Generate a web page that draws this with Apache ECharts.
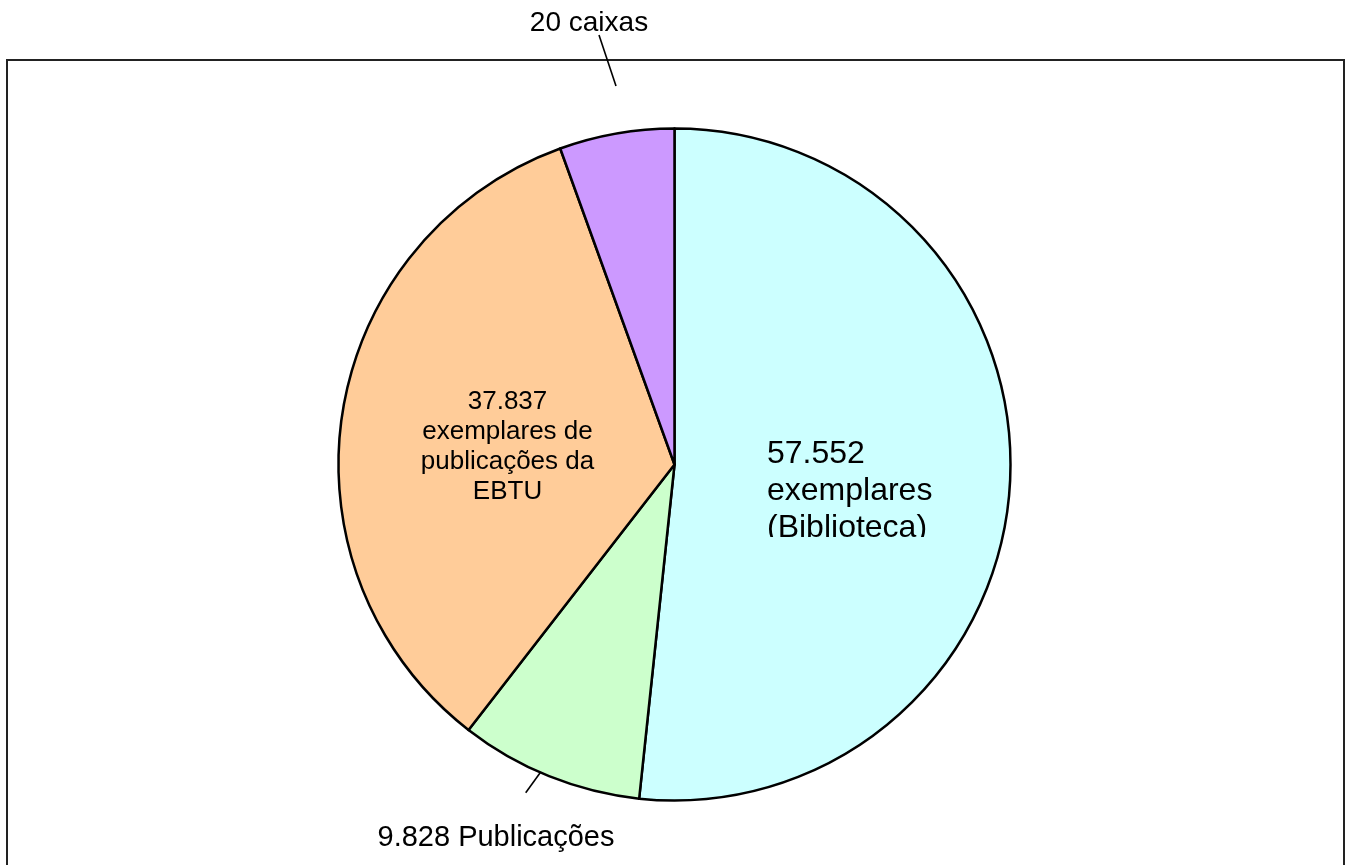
<!DOCTYPE html>
<html>
<head>
<meta charset="utf-8">
<title>Acervo</title>
<script src="https://cdn.jsdelivr.net/npm/echarts@6/dist/echarts.min.js"></script>
<style>
  html, body { margin: 0; padding: 0; background: #ffffff; }
  #chart { width: 1346px; height: 865px; }
</style>
</head>
<body>
<div id="chart"></div>
<script>
// Slices, clockwise from 12 o'clock
const categories = ['exemplares (Biblioteca)', 'Publicações', 'exemplares de publicações da EBTU', 'caixas'];
const sliceValues = [57552, 9828, 37837, 6150]; // last slice: estimated weight of the boxes
const boxCount = 20;
const sliceColors = ['#CCFFFF', '#CCFFCC', '#FFCC99', '#CC99FF'];

// thousands separator with a dot
function fmt(v) {
  return String(v).replace(/\B(?=(\d{3})+(?!\d))/g, '.');
}

const labelTexts = [
  fmt(sliceValues[0]) + '\nexemplares\n(Biblioteca)',
  fmt(sliceValues[1]) + ' Publicações',
  fmt(sliceValues[2]) + '\nexemplares de\npublicações da\nEBTU',
  boxCount + ' caixas'
];

// pie geometry
const CX = 674.5, CY = 464.5, R = 336;
const FONT = '"Liberation Sans", Arial, sans-serif';

// label anchors and leader lines, relative to the pie centre
const labelPlacement = [
  { dx: 92.5, dy: 26.5, align: 'left', size: 32, lh: 37 },
  { dx: -178.5, dy: 373.5, align: 'center', size: 29, lh: 34,
    line: [[-131.8, 304.8], [-148.8, 328.2]] },
  { dx: -167, dy: -17.5, align: 'center', size: 26, lh: 30.2 },
  { dx: -85.5, dy: -441.5, align: 'center', size: 28, lh: 32,
    line: [[-58.5, -378.5], [-75.5, -429.5]] }
];

const data = categories.map(function (name, i) {
  const p = labelPlacement[i];
  const outside = !!p.line;
  return {
    name: name,
    value: sliceValues[i],
    itemStyle: { color: sliceColors[i] },
    label: {
      show: true,
      position: outside ? 'outside' : 'inside',
      formatter: labelTexts[i],
      fontSize: p.size,
      lineHeight: p.lh,
      align: p.align,
      color: '#000000',
      fontFamily: FONT
    },
    labelLine: {
      show: outside,
      showAbove: true,
      lineStyle: { color: '#000000', width: 1.6 }
    }
  };
});

const chart = echarts.init(document.getElementById('chart'), null, { renderer: 'canvas' });

chart.setOption({
  animation: false,
  backgroundColor: '#ffffff',
  textStyle: { fontFamily: FONT },
  graphic: [
    {
      type: 'rect',
      z: -10,
      silent: true,
      shape: { x: 7, y: 60, width: 1337, height: 900 },
      style: { fill: 'none', stroke: '#222222', lineWidth: 2 }
    },
    {
      // the Biblioteca label box cuts its last line short
      type: 'rect',
      z: 100,
      silent: true,
      shape: { x: CX + 88, y: CY + 72.5, width: 200, height: 16 },
      style: { fill: sliceColors[0] }
    }
  ],
  series: [
    {
      type: 'pie',
      center: [CX, CY],
      radius: R,
      startAngle: 90,
      clockwise: true,
      avoidLabelOverlap: false,
      silent: true,
      itemStyle: { borderColor: '#000000', borderWidth: 2.5 },
      emphasis: { disabled: true },
      labelLayout: function (params) {
        const p = labelPlacement[params.dataIndex];
        const out = {
          x: CX + p.dx,
          y: CY + p.dy,
          align: p.align,
          verticalAlign: 'middle'
        };
        if (p.line) {
          out.labelLinePoints = p.line.map(function (pt) { return [CX + pt[0], CY + pt[1]]; });
        }
        return out;
      },
      data: data
    }
  ]
});
</script>
</body>
</html>
